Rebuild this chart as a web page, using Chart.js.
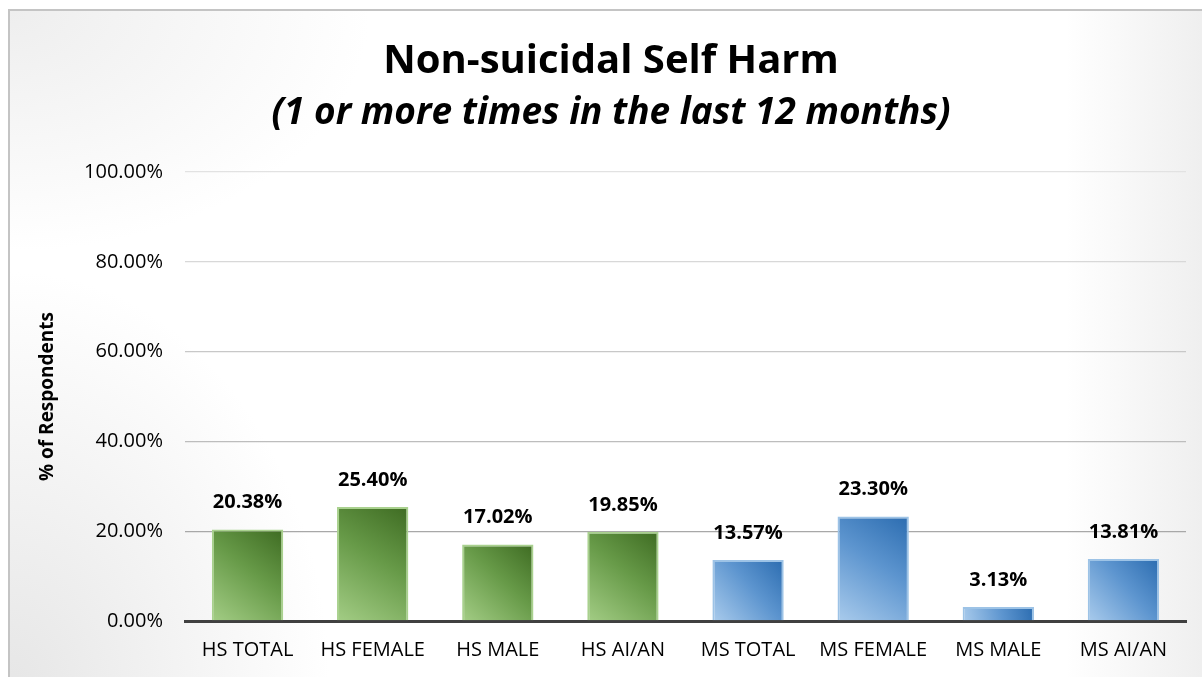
<html lang="en">
<head>
  <meta charset="UTF-8">
  <title>Non-suicidal Self Harm</title>
  <style>
    body { margin: 0; background: #fff; font-family: "Open Sans", sans-serif; }
    #frame {
      position: absolute; left: 8px; top: 9px; width: 1200px; height: 680px;
      border-left: 2px solid #c4c4c4; border-top: 2px solid #c4c4c4;
      background:
        radial-gradient(ellipse 320px 420px at 0% 100%, #e6e6e6 0%, rgba(255,255,255,0) 100%),
        radial-gradient(ellipse 360px 240px at 0% 0%, #eeeeee 0%, rgba(255,255,255,0) 100%),
        linear-gradient(to right, rgba(255,255,255,0) 88%, #eeeeee 100%),
        #fff;
    }
    #wrap { position: absolute; left: 0; top: 0; width: 1202px; height: 677px; }
  </style>
  <script src="https://cdn.jsdelivr.net/npm/chart.js"></script>
</head>
<body>
  <div id="frame"></div>
  <div id="wrap"><canvas id="chart"></canvas></div>
  <script>
    const categories = ['HS TOTAL', 'HS FEMALE', 'HS MALE', 'HS AI/AN', 'MS TOTAL', 'MS FEMALE', 'MS MALE', 'MS AI/AN'];
    const values = [20.38, 25.40, 17.02, 19.85, 13.57, 23.30, 3.13, 13.81];
    const yTicks = [0, 20, 40, 60, 80, 100];

    const FONT = "'Open Sans', sans-serif";
    const gridColors = ['#404040', '#a8a8a8', '#bdbdbd', '#c8c8c8', '#d8d8d8', '#e2e2e2'];
    const BAR_PCT = 0.57;

    function barFill(ctx) {
      const chart = ctx.chart;
      const i = ctx.dataIndex;
      const green = i < 4;
      const xs = chart.scales.x, ys = chart.scales.y;
      if (!xs || !ys || !chart.chartArea) return green ? '#6a9a4a' : '#5b93cc';
      const cx = xs.getPixelForValue(i);
      const half = (xs.width / categories.length) * BAR_PCT / 2;
      const top = ys.getPixelForValue(values[i]);
      const base = ys.getPixelForValue(0);
      const g = chart.ctx.createLinearGradient(cx + half, top, cx - half, base);
      if (green) {
        g.addColorStop(0, '#3e6b22');
        g.addColorStop(0.45, '#679a48');
        g.addColorStop(1, '#a3cd85');
      } else {
        g.addColorStop(0, '#2b6cb0');
        g.addColorStop(0.45, '#5d95cf');
        g.addColorStop(1, '#a9cbec');
      }
      return g;
    }

    const valueLabels = {
      id: 'valueLabels',
      afterDatasetsDraw(chart) {
        const ctx = chart.ctx;
        const meta = chart.getDatasetMeta(0);
        ctx.save();
        ctx.font = 'bold 20px ' + FONT;
        ctx.fillStyle = '#000';
        ctx.textAlign = 'center';
        ctx.textBaseline = 'middle';
        meta.data.forEach((bar, i) => {
          ctx.fillText(values[i].toFixed(2) + '%', bar.x, bar.y - 27);
        });
        ctx.restore();
      }
    };

    new Chart(document.getElementById('chart'), {
      type: 'bar',
      data: {
        labels: categories,
        datasets: [{
          data: values,
          backgroundColor: barFill,
          borderColor: categories.map((c, i) => i < 4 ? '#a9d18e' : '#9dc3e6'),
          borderWidth: 2,
          barPercentage: BAR_PCT,
          categoryPercentage: 1
        }]
      },
      options: {
        responsive: true,
        maintainAspectRatio: false,
        animation: false,
        layout: { padding: { left: 36, right: 16, top: 20, bottom: 0 } },
        plugins: {
          legend: { display: false },
          tooltip: { enabled: false },
          title: {
            display: true,
            text: 'Non-suicidal Self Harm',
            color: '#000',
            font: { family: FONT, size: 40, weight: 'bold', lineHeight: 1.2 },
            padding: { top: 18, bottom: 0 }
          },
          subtitle: {
            display: true,
            text: '(1 or more times in the last 12 months)',
            color: '#000',
            font: { family: FONT, size: 37, weight: 'bold', style: 'italic', lineHeight: 1.2 },
            padding: { top: 4.8, bottom: 36.8 }
          }
        },
        scales: {
          x: {
            grid: { display: false, drawTicks: false },
            border: { color: '#404040', width: 3 },
            ticks: { color: '#000', font: { family: FONT, size: 20 }, padding: 17, maxRotation: 0, autoSkip: false },
            afterFit(scale) { scale.height = 56; }
          },
          y: {
            min: 0,
            max: 100,
            afterBuildTicks(scale) { scale.ticks = yTicks.map(v => ({ value: v })); },
            border: { display: false },
            grid: {
              drawTicks: false,
              color: (c) => gridColors[c.index] || '#d9d9d9',
              lineWidth: 1.3
            },
            ticks: {
              color: '#000',
              font: { family: FONT, size: 20 },
              padding: 22,
              callback: (v) => v.toFixed(2) + '%'
            },
            title: {
              display: true,
              text: '% of Respondents',
              color: '#000',
              font: { family: FONT, size: 19, weight: 'bold' },
              padding: { top: 0, bottom: 0 }
            },
            afterFit(scale) { scale.width = 149; }
          }
        }
      },
      plugins: [valueLabels]
    });
  </script>
</body>
</html>
